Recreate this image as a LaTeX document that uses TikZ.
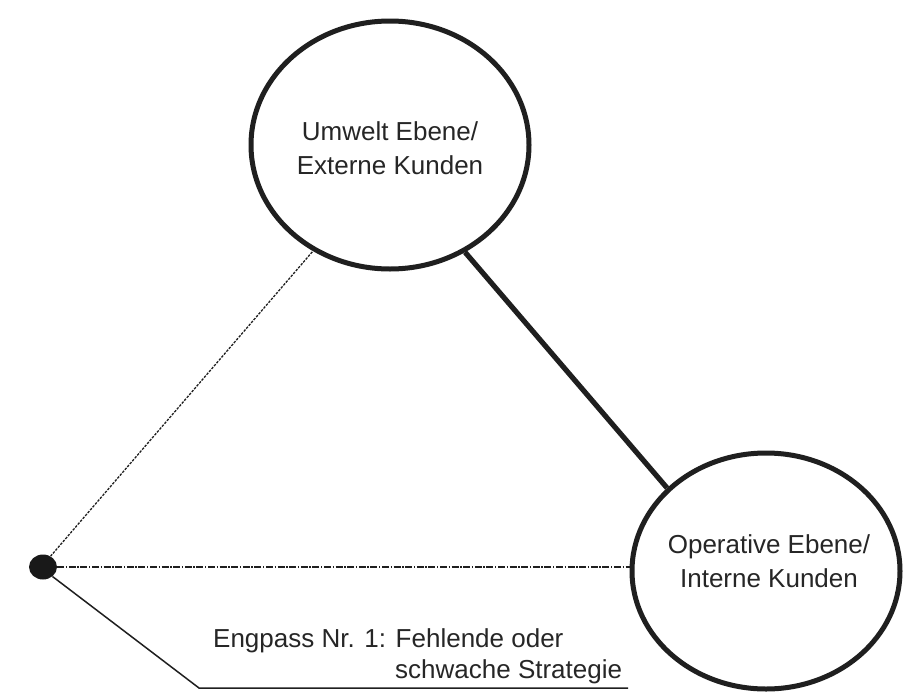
\documentclass[tikz,border=0pt]{standalone}
\usepackage{fontspec}
\setmainfont{Liberation Sans}
\usetikzlibrary{shapes.geometric}
\begin{document}
\begin{tikzpicture}[x=1pt, y=-1pt,
  ink/.style={draw=black!88},
  level/.style={ellipse, ink, line width=5pt, inner sep=0pt},
  label/.style={font=\fontsize{26}{34}\selectfont, text=black!85, inner sep=0pt, align=center},
  thinlink/.style={ink, line width=1.5pt},
  dotlink/.style={ink, line width=1.3pt, dash pattern=on 2.5pt off 1.3pt},
  dashdotlink/.style={ink, line width=1.4pt, dash pattern=on 7pt off 1.6pt on 1.4pt off 1.6pt},
  strong/.style={ink, line width=5.2pt}]
  \useasboundingbox[fill=white] (0,0) rectangle (906,694);

  % the two levels
  \node[level, minimum width=278pt, minimum height=248pt] (umwelt) at (390,145) {};
  \node[level, minimum width=268pt, minimum height=236pt] (operativ) at (766,571) {};
  \node[label] (umweltText) at (390,148) {Umwelt Ebene/\\Externe Kunden};
  \node[label] (operativText) at (769,561) {Operative Ebene/\\Interne Kunden};

  % bottleneck point
  \node[ellipse, fill=black!90, minimum width=28pt, minimum height=25pt, inner sep=0pt] (engpass) at (43,567) {};

  % links
  \draw[strong] (umwelt.-55) -- (operativ.140);
  \draw[dotlink] (engpass.55) -- (umwelt.-126);
  \draw[dashdotlink] (engpass.east) -- (engpass.east -| operativ.west);
  \coordinate (knick) at (199,688);
  \coordinate (ende) at (628,688);
  \draw[thinlink] (engpass.-45) -- (knick) -- (ende);

  % bottleneck caption
  \node[label, anchor=base west] (cap1) at (213,647) {Engpass Nr. 1: Fehlende oder};
  \node[label, anchor=base west] (cap2) at (395,678) {schwache Strategie};
\end{tikzpicture}
\end{document}
